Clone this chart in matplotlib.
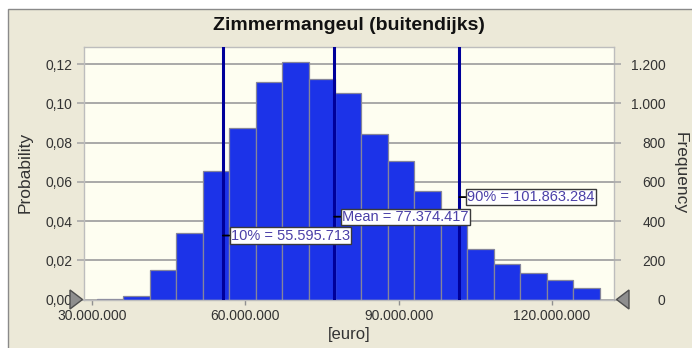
import numpy as np
import matplotlib
matplotlib.use("Agg")
import matplotlib.pyplot as plt
from matplotlib.patches import Rectangle, Polygon
from matplotlib.ticker import FixedLocator, FuncFormatter

# Simulated cost distribution (10.000 trials), 19 equal bins
sample_min = 30.92e6
sample_max = 129.35e6
n_bins = 19
probs = [0.0004, 0.0020, 0.0151, 0.0337, 0.0656, 0.0874, 0.1108, 0.1213,
         0.1126, 0.1053, 0.0846, 0.0707, 0.0551, 0.0410, 0.0256, 0.0180,
         0.0137, 0.0100, 0.0060]
n_trials = 10000

# Summary statistics
p10 = 55595713
mean = 77374417
p90 = 101863284
stat_names = ["10%", "Mean", "90%"]
stat_values = [p10, mean, p90]
stat_label_y = [0.0326, 0.0422, 0.0522]

x_ticks = [30e6, 60e6, 90e6, 120e6]
y_ticks = [0.0, 0.02, 0.04, 0.06, 0.08, 0.10, 0.12]
freq_ticks = [0, 200, 400, 600, 800, 1000, 1200]

title = "Zimmermangeul (buitendijks)"

FONT = "Liberation Sans"
plt.rcParams["font.family"] = [FONT, "DejaVu Sans"]

W, H = 692, 348
fig = plt.figure(figsize=(W / 100, H / 100), dpi=100, facecolor="white")

# Panel background with thin border
fig.patches.append(Rectangle((8 / W, -0.01), 1.0, 1 - 9 / H + 0.01,
                             transform=fig.transFigure, facecolor="#ECE9D8",
                             edgecolor="#8a8a8a", lw=1.0, zorder=-10))

ax = fig.add_axes([84 / W, 1 - 299.5 / H, 530 / W, 252.5 / H])
ax.set_facecolor("#FEFEF1")

ax.set_xlim(28.435e6, 132.13e6)
ax.set_ylim(0, 0.1287)

edges = np.linspace(sample_min, sample_max, n_bins + 1)
ax.bar(edges[:-1], probs, width=np.diff(edges), align="edge",
       color="#1C33E8", edgecolor="#85859a", linewidth=0.9, zorder=2)

# Horizontal grid
ax.yaxis.set_major_locator(FixedLocator(y_ticks))
ax.grid(axis="y", color="#A9A9A9", linewidth=1.4, zorder=1)
ax.set_axisbelow(True)

for sp in ax.spines.values():
    sp.set_color("#BDBDBD")
    sp.set_linewidth(1.0)

def nl_int(v):
    return f"{int(round(v)):,}".replace(",", ".")

ax.xaxis.set_major_locator(FixedLocator(x_ticks))
ax.xaxis.set_major_formatter(FuncFormatter(lambda v, p: nl_int(v)))
ax.yaxis.set_major_formatter(FuncFormatter(lambda v, p: f"{v:.2f}".replace(".", ",")))
ax.tick_params(axis="x", length=3.5, width=1, color="#909090", pad=3,
               labelsize=10, labelcolor="#333333")
ax.tick_params(axis="y", length=5, width=1.2, color="#A9A9A9", pad=3.5,
               labelsize=10, labelcolor="#333333")

# Frequency axis on the right
ax2 = ax.twinx()
ax2.set_ylim(0, 0.1287 * n_trials)
ax2.yaxis.set_major_locator(FixedLocator(freq_ticks))
ax2.yaxis.set_major_formatter(FuncFormatter(lambda v, p: nl_int(v)))
ax2.tick_params(axis="y", length=5, width=1.2, color="#A9A9A9", pad=32,
                labelsize=10, labelcolor="#333333")
for lab in ax2.get_yticklabels():
    lab.set_horizontalalignment("right")
for sp in ax2.spines.values():
    sp.set_visible(False)

# Percentile / mean markers
for name, val, ly in zip(stat_names, stat_values, stat_label_y):
    ax.axvline(val, color="#00009A", linewidth=2.2, zorder=3)
    ax.annotate(f"{name} = {nl_int(val)}", xy=(val, ly), xycoords="data",
                xytext=(5.8, 0), textcoords="offset points",
                ha="left", va="center", fontsize=10.5, color="#4B40A8",
                bbox=dict(boxstyle="square,pad=0.08", facecolor="white",
                          edgecolor="#3a3a3a", linewidth=1.0),
                arrowprops=dict(arrowstyle="-", color="black", lw=1.3,
                                shrinkA=0, shrinkB=0),
                zorder=5)

ax.set_title(title, fontsize=14, fontweight="bold", color="#111111", pad=0,
             y=1 + 17.5 / 252.5)
fig.text(25.5 / W, 1 - 172 / H, "Probability", rotation=90, ha="center",
         va="center", fontsize=12.5, color="#333333")
fig.text(680 / W, 1 - 173 / H, "Frequency", rotation=270, ha="center",
         va="center", fontsize=12.5, color="#333333")
fig.text(349 / W, 1 - 334 / H, "[euro]", ha="center", va="center",
         fontsize=12, color="#333333")

# Range slider handles
def px(x, y):
    return (x / W, 1 - y / H)

left_tri = Polygon([px(70, 290), px(70, 309), px(82.5, 299.5)], closed=True,
                   transform=fig.transFigure, facecolor="#8E8E8E",
                   edgecolor="#4E4E4E", lw=1.0, zorder=10)
right_tri = Polygon([px(629, 290), px(629, 309), px(616.5, 299.5)], closed=True,
                    transform=fig.transFigure, facecolor="#8E8E8E",
                    edgecolor="#4E4E4E", lw=1.0, zorder=10)
fig.patches.extend([left_tri, right_tri])

fig.savefig("out.png", dpi=100, facecolor=fig.get_facecolor())
